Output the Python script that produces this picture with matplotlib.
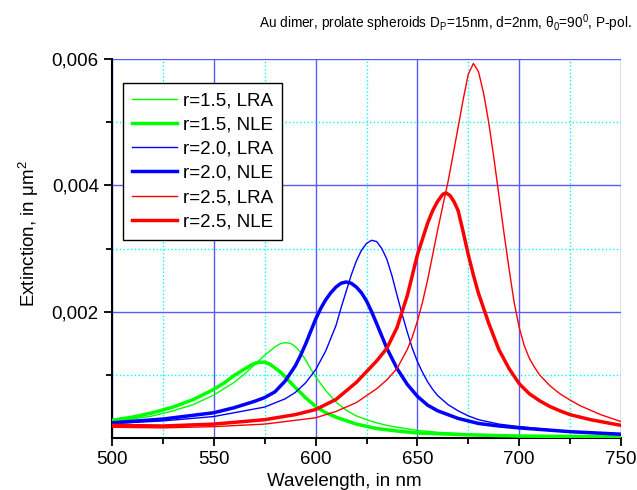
import numpy as np
import matplotlib; matplotlib.use("Agg")
import matplotlib.pyplot as plt
from matplotlib.ticker import FixedLocator

plt.rcParams["font.family"] = ["Liberation Sans", "DejaVu Sans"]
plt.rcParams["mathtext.fontset"] = "custom"
plt.rcParams["mathtext.rm"] = "Liberation Sans"
plt.rcParams["mathtext.it"] = "Liberation Sans:italic"

# r=1.5 (green)
WL_G_LRA = [500,510,520,530,540,550,560,565,570,575,580,582.5,585,587.5,590,592.5,595,597.5,600,605,610,615,620,625,630,635,
            640,650,660,675,700,725,750]
EX_G_LRA = [.00026,.00030,.00035,.00043,.00053,.00068,.00088,.00101,.00116,.00131,.00144,.00149,.00151,.00150,.00145,.00136,
            .00124,.00110,.00097,.00075,.00057,.00044,.00035,.00029,.00024,.00020,.00017,.00012,.00009,.00006,.00004,.00003,.00002]
WL_G_NLE = [500,510,520,530,540,550,555,560,565,567.5,570,572.5,575,577.5,580,582.5,585,590,595,600,605,610,615,620,630,640,
            650,675,700,750]
EX_G_NLE = [.00028,.00033,.00040,.00049,.00061,.00077,.00087,.00099,.00109,.00114,.00118,.00120,.00120,.00117,.00111,.00105,
            .00097,.00080,.00064,.00050,.00040,.00033,.000275,.00022,.00015,.00011,.00008,.00005,.00003,.00002]
# r=2.0 (blue)
WL_B_LRA = [500,525,550,575,585,590,595,600,605,610,612.5,615,617.5,620,622.5,625,627.5,630,632.5,635,637.5,640,642.5,645,
            647.5,650,652.5,655,657.5,660,665,670,675,680,690,700,725,750]
EX_B_LRA = [.00023,.00027,.00034,.00049,.00062,.00072,.00087,.00108,.00138,.00178,.00206,.00232,.00258,.00280,.00297,.00308,
            .00313,.00311,.00300,.00283,.00257,.00226,.00196,.00168,.00142,.00121,.00104,.00089,.00077,.00067,.00053,.00043,
            .00035,.00029,.00022,.00018,.00010,.00006]
WL_B_NLE = [500,525,550,560,570,575,580,585,590,592.5,595,597.5,600,602.5,605,607.5,610,612.5,615,617.5,620,622.5,625,627.5,
            630,635,640,645,650,655,660,670,680,690,700,725,750]
EX_B_NLE = [.00024,.00030,.00040,.00048,.00058,.00064,.00073,.00090,.00114,.00130,.00148,.00168,.00188,.00205,.00219,.00230,
            .00239,.00245,.00247,.00245,.00239,.00230,.00217,.00200,.00181,.00142,.00110,.00085,.00066,.00052,.00043,.00031,
            .00023,.00019,.00016,.00010,.00006]
# r=2.5 (red)
WL_R_LRA = [500,525,550,575,600,610,620,630,635,640,645,647.5,650,652.5,655,657.5,660,662.5,665,667.5,670,672.5,675,677.5,
            680,682.5,685,687.5,690,692.5,695,697.5,700,702.5,705,707.5,710,715,720,725,730,740,750]
EX_R_LRA = [.00017,.00016,.00018,.00022,.00032,.00042,.00056,.00078,.00092,.00110,.00140,.00160,.00185,.00215,.00250,.00290,
            .00330,.00368,.00405,.00448,.00492,.00536,.00576,.00593,.00580,.00546,.00500,.00445,.00385,.00325,.00268,.00215,
            .00175,.00146,.00126,.00112,.00100,.00083,.00070,.00060,.00051,.00037,.00026]
WL_R_NLE = [500,525,550,575,590,600,610,620,625,630,635,640,645,650,655,657.5,660,662.5,664,666,668,670,672.5,675,677.5,680,
            685,690,695,700,705,710,715,720,725,735,750]
EX_R_NLE = [.00020,.00019,.00022,.00029,.00037,.00045,.00061,.00088,.00105,.00122,.00142,.00175,.00225,.00290,.00340,.00360,
            .00375,.00386,.00388,.00384,.00374,.00360,.00326,.00290,.00258,.00229,.00182,.00140,.00110,.00086,.00070,.00059,
            .00050,.00043,.00037,.00029,.00020]

SERIES = [("r=1.5, LRA", WL_G_LRA, EX_G_LRA, "#00ff00", 1.0),
          ("r=1.5, NLE", WL_G_NLE, EX_G_NLE, "#00ff00", 2.5),
          ("r=2.0, LRA", WL_B_LRA, EX_B_LRA, "#0000ff", 1.0),
          ("r=2.0, NLE", WL_B_NLE, EX_B_NLE, "#0000ff", 2.5),
          ("r=2.5, LRA", WL_R_LRA, EX_R_LRA, "#ff0000", 1.0),
          ("r=2.5, NLE", WL_R_NLE, EX_R_NLE, "#ff0000", 2.5)]

XTICKS = [500, 550, 600, 650, 700, 750]
XMINOR = [525, 575, 625, 675, 725]
YTICKS = [0.002, 0.004, 0.006]
YTICKLABELS = ["0,002", "0,004", "0,006"]
YMINOR = [0.001, 0.003, 0.005]

fig = plt.figure(figsize=(6.37, 4.90), dpi=100)
ax = fig.add_axes([112/637, 1-438/490, 509/637, 379/490])

for lab, x, y, c, lw in SERIES:
    ax.plot(x, y, color=c, lw=lw, label=lab, zorder=3, solid_joinstyle="round")

ax.set_xlim(500, 750); ax.set_ylim(0, 0.006)
ax.set_xticks(XTICKS); ax.xaxis.set_minor_locator(FixedLocator(XMINOR))
ax.set_yticks(YTICKS); ax.set_yticklabels(YTICKLABELS)
ax.yaxis.set_minor_locator(FixedLocator(YMINOR))
ax.tick_params(which="both", direction="out", width=1.3, labelsize=13.5)
ax.tick_params(which="major", length=6)
ax.tick_params(which="minor", length=4)
ax.grid(which="major", color="#5a5aff", lw=1.0)
ax.grid(which="minor", color="#00ffff", lw=1.0, ls=":")
ax.set_axisbelow(True)
for s in ("top", "right"): ax.spines[s].set_visible(False)
for s in ("left", "bottom"): ax.spines[s].set_linewidth(1.5)

ax.set_xlabel("Wavelength, in nm", fontsize=13.5)
ax.xaxis.set_label_coords(0.456, -0.092)
ax.set_ylabel("Extinction, in μm$^{\\mathregular{2}}$", fontsize=13.5)
ax.yaxis.set_label_coords(-0.14, 0.54)
ax.set_title("Au dimer, prolate spheroids D$_{\\mathregular{P}}$=15nm, d=2nm, θ$_{\\mathregular{0}}$=90$^{\\mathregular{0}}$, P-pol.",
             fontsize=9.8, x=0.654, y=1.06, va="baseline")

leg = ax.legend(loc="upper left", bbox_to_anchor=(0.021, 0.9375), borderaxespad=0, fontsize=13.5,
                frameon=True, fancybox=False, framealpha=1, edgecolor="black",
                handlelength=2.4, handletextpad=0.3, labelspacing=0.38, borderpad=0.5)
leg.get_frame().set_linewidth(1.0)

plt.savefig("out.png", dpi=100)
